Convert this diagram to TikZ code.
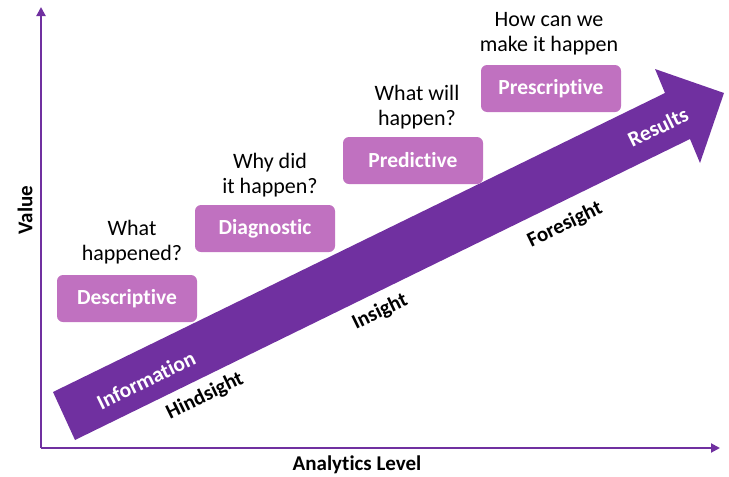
\documentclass[tikz,border=0pt]{standalone}
\usepackage{fontspec}
\setmainfont{Carlito}[Ligatures={NoCommon,NoRare}]
\usetikzlibrary{arrows.meta}
\definecolor{arrowpurple}{HTML}{7030A0}
\definecolor{boxpurple}{HTML}{C071C0}
\tikzset{
  stagebox/.style={fill=boxpurple, draw=none, rounded corners=6pt, minimum width=140pt, minimum height=47pt, text=white, font=\fontsize{21.5}{25}\selectfont\bfseries, inner sep=0pt},
  question/.style={align=center, font=\fontsize{22}{25}\selectfont, text=black, inner sep=0pt},
  onarrow/.style={rotate=26, text=white, font=\fontsize{21.5}{25}\selectfont\bfseries, inner sep=0pt},
  belowarrow/.style={rotate=26, text=black, font=\fontsize{21}{25}\selectfont\bfseries, inner sep=0pt},
  axislabel/.style={text=black, font=\fontsize{21}{25}\selectfont\bfseries, inner sep=0pt},
  axisline/.style={draw=arrowpurple, line width=2pt, -{Triangle[length=9pt,width=9pt]}}
}
\begin{document}
\begin{tikzpicture}[x=1pt,y=-1pt]
\useasboundingbox (0,0) rectangle (729,477);
% axes
\coordinate (origin) at (41,448);
\coordinate (ytop) at (41,7);
\coordinate (xend) at (720,448);
\draw[axisline] (origin) -- (ytop);
\draw[axisline] (origin) -- (xend);
% big arrow
\coordinate (tailT) at (53,392);
\coordinate (tailB) at (75,440);
\coordinate (joinB) at (690,139);
\coordinate (barbB) at (700,163);
\coordinate (tip) at (724,93);
\coordinate (barbT) at (655,69);
\coordinate (joinT) at (665,93);
\fill[arrowpurple] (tailT) -- (tailB) -- (joinB) -- (barbB) -- (tip) -- (barbT) -- (joinT) -- cycle;
% boxes
\node[stagebox] (desc) at (127,298.5) {Descriptive};
\node[stagebox] (diag) at (265,228.5) {Diagnostic};
\node[stagebox] (pred) at (413,160.5) {Predictive};
\node[stagebox] (presc) at (551,88.5) {Prescriptive};
% questions
\node[question] (q1) at (132,242) {What\\happened?};
\node[question] (q2) at (270,175) {Why did\\it happen?};
\node[question] (q3) at (417,107) {What will\\happen?};
\node[question] (q4) at (549,33.5) {How can we\\make it happen};
% arrow labels
\node[onarrow] (info) at (146,380) {Information};
\node[onarrow] (res) at (658,127) {Results};
\node[belowarrow] (hind) at (205,396) {Hindsight};
\node[belowarrow] (ins) at (380,312) {Insight};
\node[belowarrow] (fore) at (565,225) {Foresight};
% axis labels
\node[axislabel, rotate=90] (val) at (25,210) {Value};
\node[axislabel] (anal) at (357,465) {Analytics Level};
\end{tikzpicture}
\end{document}
